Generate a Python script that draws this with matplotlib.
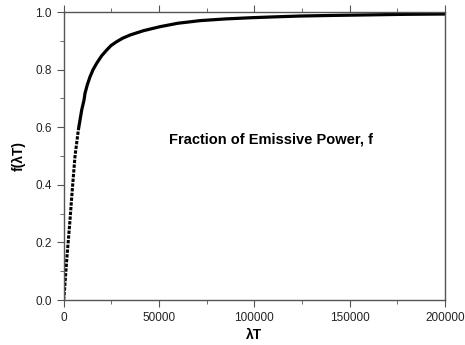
import numpy as np
import matplotlib
matplotlib.use('Agg')
import matplotlib.pyplot as plt
from matplotlib.ticker import MultipleLocator

# values
lam_t = [0, 260, 790, 1660, 2530, 3400, 3930, 4280, 4800, 6030, 7760,
         9540, 10740, 11270, 12500, 13890, 15500, 17380, 20000, 22630,
         25000, 27870, 31000, 34850, 41840, 50570, 60000, 71530, 85000,
         97730, 110000, 123920, 140000, 160000, 180000, 200000]
frac = [0.0, 0.011, 0.059, 0.139, 0.208, 0.278, 0.325, 0.355, 0.4, 0.5, 0.59,
        0.66, 0.694, 0.718, 0.748, 0.775, 0.800, 0.822, 0.848, 0.868,
        0.884, 0.897, 0.909, 0.920, 0.935, 0.949, 0.961, 0.970, 0.976,
        0.980, 0.983, 0.986, 0.988, 0.990, 0.992, 0.993]

label_text = "Fraction of Emissive Power, f"
xlabel = "\u03bbT"
ylabel = "f(\u03bbT)"

plt.rcParams['font.family'] = ['Liberation Sans', 'DejaVu Sans']

fig = plt.figure(figsize=(4.65, 3.45), dpi=100)
ax = fig.add_axes([0.1366, 0.1304, 0.8204, 0.8348])

x = np.array(lam_t)
y = np.array(frac)

# dotted look on the steep part, solid once the points crowd together
split = 11
ax.plot(x[:split], y[:split], color='black', lw=2.2, dashes=(1.1, 0.45),
        solid_capstyle='butt')
ax.plot(x[split - 1:], y[split - 1:], color='black', lw=2.3,
        solid_joinstyle='round', solid_capstyle='butt')

ax.set_xlim(0, 200000)
ax.set_ylim(0, 1.0)
ax.xaxis.set_major_locator(MultipleLocator(50000))
ax.xaxis.set_minor_locator(MultipleLocator(25000))
ax.yaxis.set_major_locator(MultipleLocator(0.2))
ax.yaxis.set_minor_locator(MultipleLocator(0.1))
ax.yaxis.set_major_formatter(matplotlib.ticker.FormatStrFormatter('%.1f'))

spine_c = '#555555'
for s in ax.spines.values():
    s.set_color(spine_c)
    s.set_linewidth(1.0)

ax.tick_params(which='both', direction='out', color=spine_c,
               top=True, right=False, labelsize=8.5, labelcolor='#222222')
ax.tick_params(which='major', length=5)
ax.tick_params(which='minor', length=3)

ax.set_xlabel(xlabel, fontsize=10, fontweight='bold', labelpad=3)
ax.set_ylabel(ylabel, fontsize=10, fontweight='bold', labelpad=7)

ax.text(108700, 0.556, label_text, fontsize=10.5, fontweight='bold',
        ha='center', va='center')

fig.savefig('out.png', dpi=100)
